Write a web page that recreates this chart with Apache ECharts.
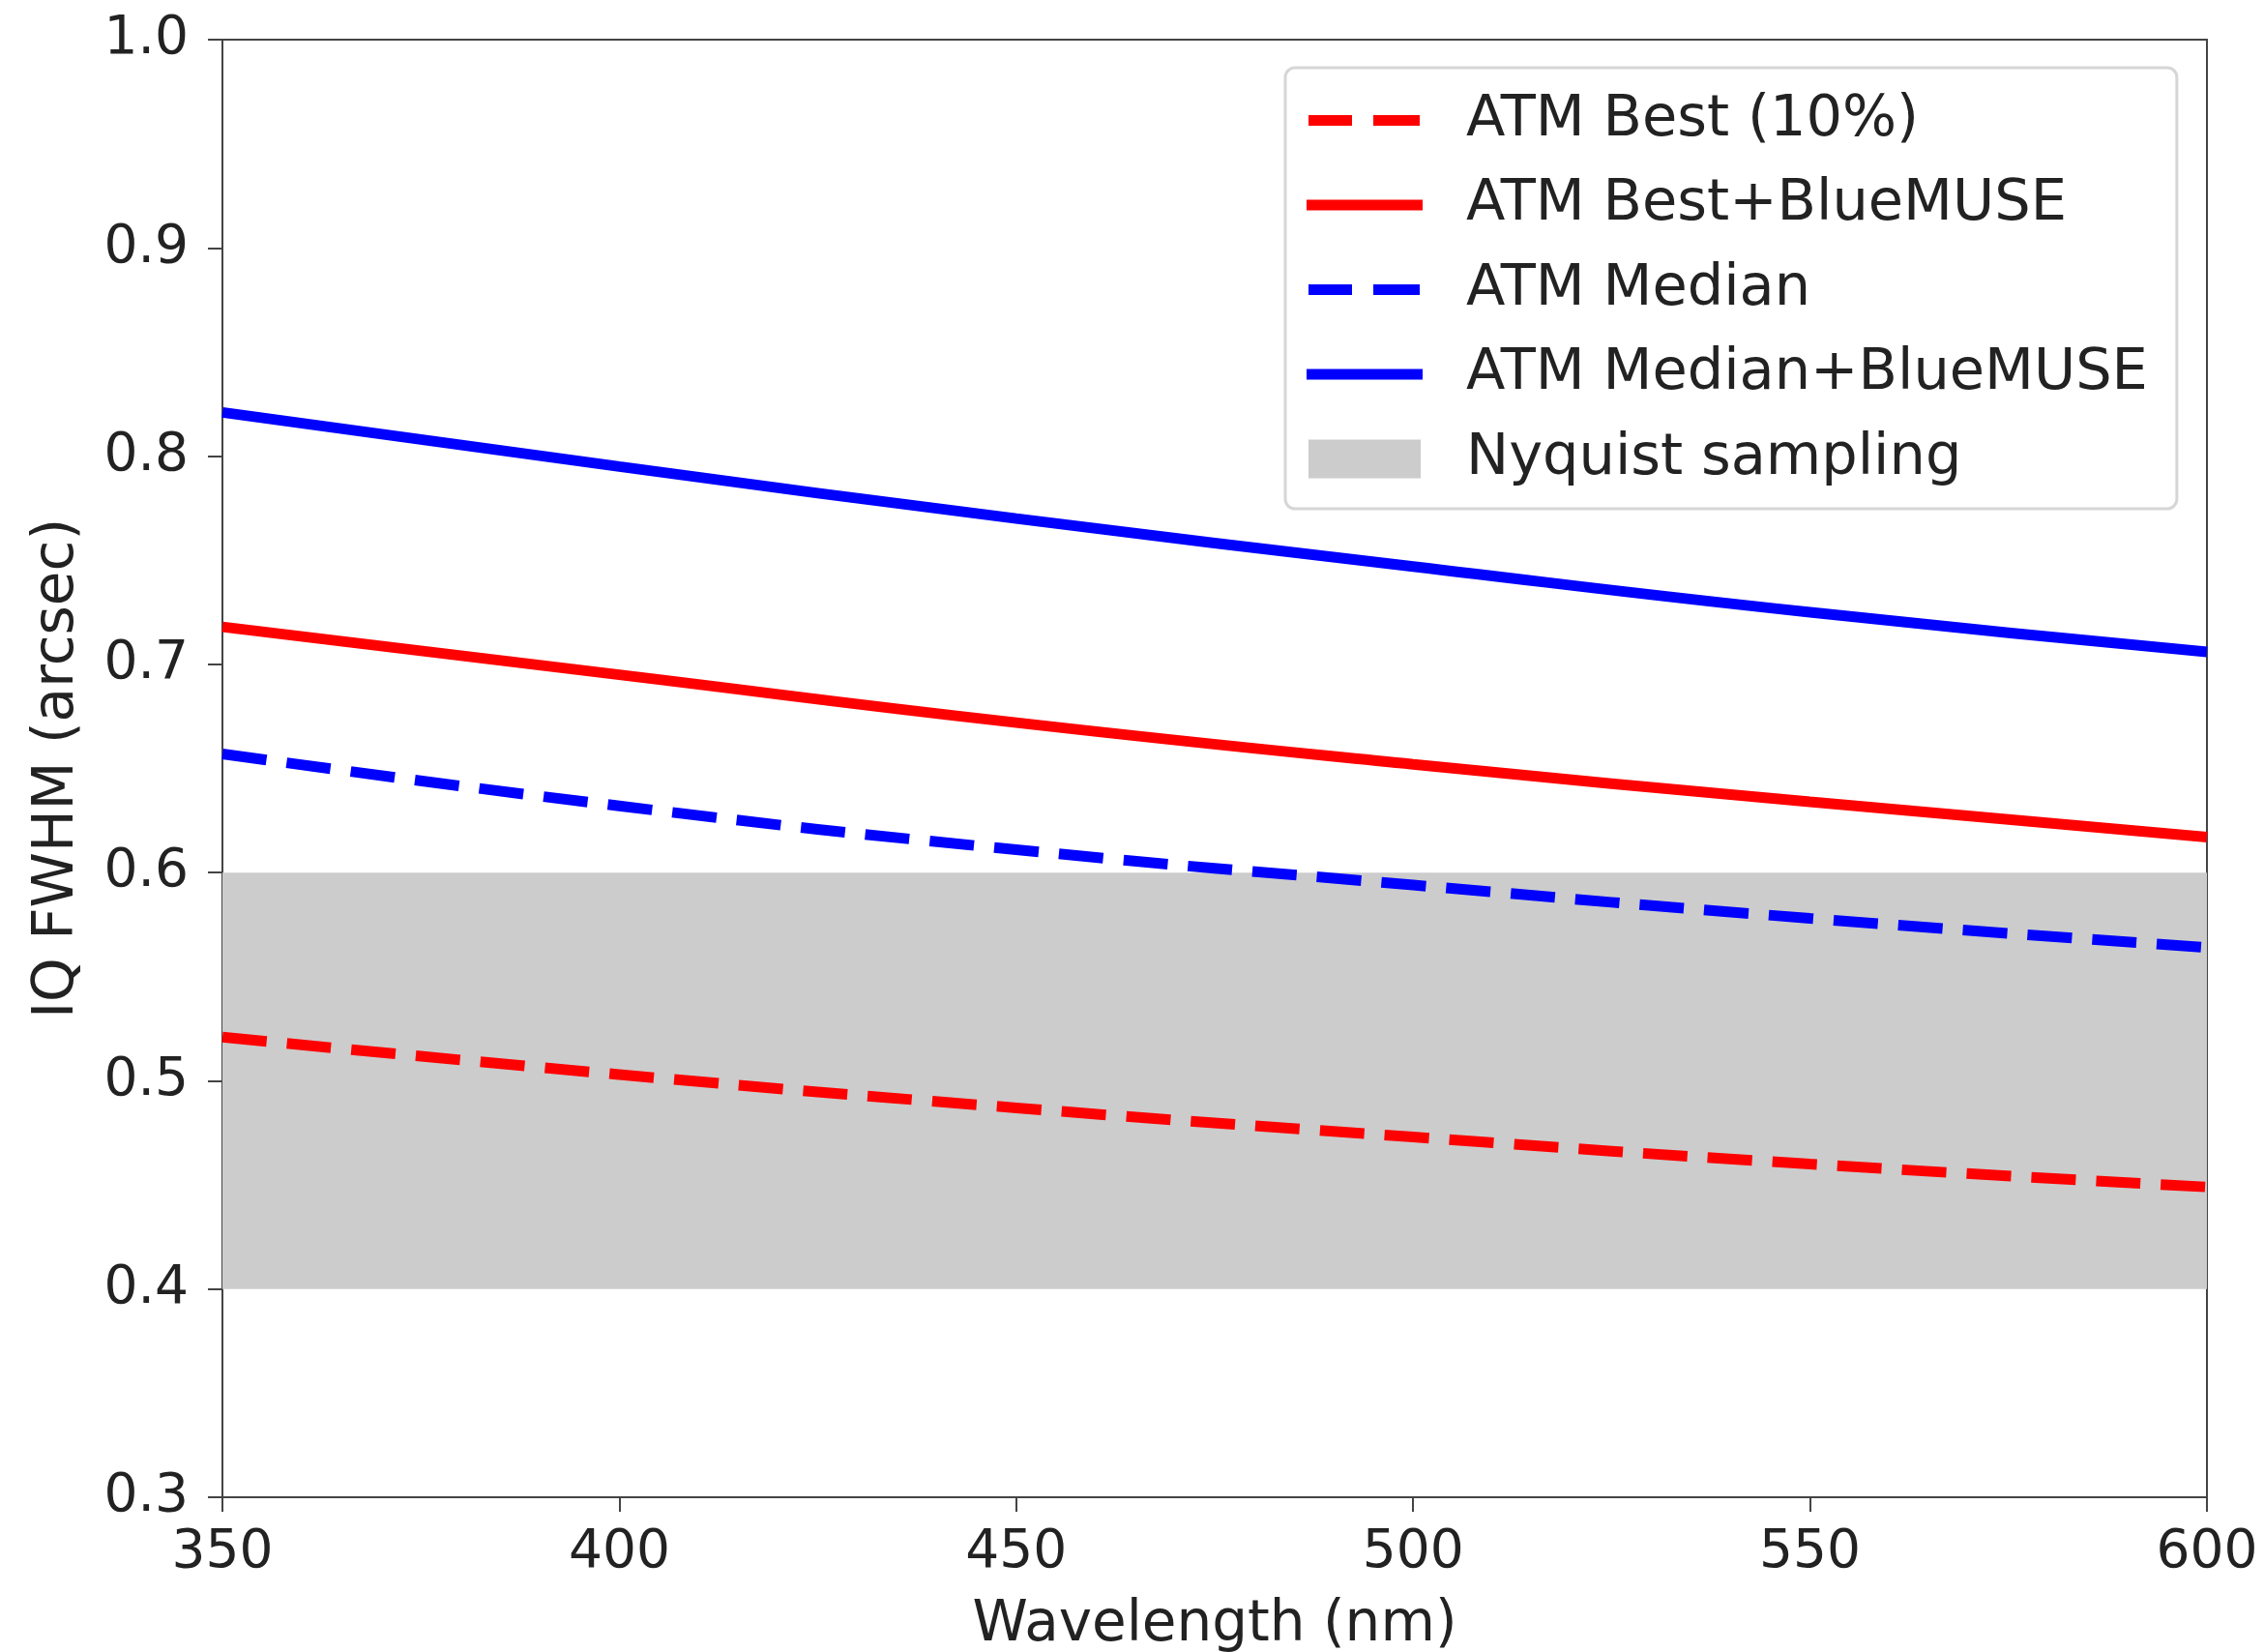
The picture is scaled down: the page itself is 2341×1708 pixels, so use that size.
<!DOCTYPE html>
<html>
<head>
<meta charset="utf-8">
<script src="https://cdn.jsdelivr.net/npm/echarts@6/dist/echarts.min.js"></script>
<style>
html,body{margin:0;padding:0;background:#fff;}
#chart{width:2341px;height:1708px;}
</style>
</head>
<body>
<div id="chart"></div>
<script>
// Wavelength (nm)
const wavelengths = [350, 400, 450, 500, 550, 600];
// IQ FWHM (arcsec)
const atmBest = [0.521, 0.503, 0.487, 0.473, 0.460, 0.449];
const atmBestBlueMUSE = [0.718, 0.695, 0.672, 0.652, 0.634, 0.617];
const atmMedian = [0.657, 0.632, 0.611, 0.594, 0.578, 0.564];
const atmMedianBlueMUSE = [0.821, 0.795, 0.770, 0.747, 0.725, 0.706];
const nyquistRange = [0.4, 0.6];

const seriesNames = ['ATM Best (10%)', 'ATM Best+BlueMUSE', 'ATM Median', 'ATM Median+BlueMUSE', 'Nyquist sampling'];
const xTicks = { min: 350, max: 600, interval: 50 };
const yTicks = { min: 0.3, max: 1.0, interval: 0.1 };

const FONT = 'DejaVu Sans';
const chart = echarts.init(document.getElementById('chart'));

function pairs(ys) { return wavelengths.map((x, i) => [x, ys[i]]); }

function lineSeries(name, ys, color, dashed) {
  return {
    name: name,
    type: 'line',
    data: pairs(ys),
    smooth: true,
    symbol: 'none',
    z: 5,
    lineStyle: { color: color, width: 11, type: dashed ? [46, 21] : 'solid', cap: 'butt' },
    itemStyle: { color: color }
  };
}

// legend icons (bounding corners keep the 120x40 frame)
const CORNERS = 'M0,0h0.01v0.01h-0.01Z M120,40h-0.01v-0.01h0.01Z ';
const ICON_SOLID = 'path://' + CORNERS + 'M0,14.5h120v11h-120Z';
const ICON_DASH = 'path://' + CORNERS + 'M2,14.5h45v11h-45Z M69,14.5h48v11h-48Z';
const ICON_RECT = 'path://' + CORNERS + 'M2,0h116v40h-116Z';

const option = {
  backgroundColor: '#ffffff',
  animation: false,
  grid: { left: 230, top: 41, right: 59, bottom: 160, show: true, borderColor: '#444', borderWidth: 2, backgroundColor: 'transparent', containLabel: false, outerBoundsMode: 'none' },
  legend: {
    left: 1329, top: 70,
    orient: 'vertical',
    padding: [25, 30, 22, 22],
    backgroundColor: '#ffffff',
    borderColor: '#d6d6d6', borderWidth: 3, borderRadius: 10,
    itemWidth: 120, itemHeight: 40, itemGap: 28.5,
    textStyle: { fontFamily: FONT, fontSize: 59, color: '#222', padding: [0, 0, 0, 40], lineHeight: 58 },
    data: [
      { name: seriesNames[0], icon: ICON_DASH, itemStyle: { color: '#ff0000' } },
      { name: seriesNames[1], icon: ICON_SOLID, itemStyle: { color: '#ff0000' } },
      { name: seriesNames[2], icon: ICON_DASH, itemStyle: { color: '#0000ff' } },
      { name: seriesNames[3], icon: ICON_SOLID, itemStyle: { color: '#0000ff' } },
      { name: seriesNames[4], icon: ICON_RECT, itemStyle: { color: '#cccccc' } }
    ]
  },
  xAxis: {
    type: 'value', min: xTicks.min, max: xTicks.max, interval: xTicks.interval,
    name: 'Wavelength (nm)', nameLocation: 'middle', nameGap: 104,
    nameTextStyle: { fontFamily: FONT, fontSize: 58, color: '#222' },
    axisLine: { show: true, lineStyle: { color: '#444', width: 2 } },
    axisTick: { show: true, length: 15, lineStyle: { color: '#444', width: 2 } },
    axisLabel: { fontFamily: FONT, fontSize: 55, color: '#222', margin: 30, formatter: v => String(v) },
    splitLine: { show: false }
  },
  yAxis: {
    type: 'value', min: yTicks.min, max: yTicks.max, interval: yTicks.interval,
    name: 'IQ FWHM (arcsec)', nameLocation: 'middle', nameGap: 141,
    nameTextStyle: { fontFamily: FONT, fontSize: 58, color: '#222' },
    axisLine: { show: true, lineStyle: { color: '#444', width: 2 } },
    axisTick: { show: true, length: 15, lineStyle: { color: '#444', width: 2 } },
    axisLabel: { fontFamily: FONT, fontSize: 55, color: '#222', margin: 35, formatter: v => v.toFixed(1) },
    splitLine: { show: false }
  },
  series: [
    lineSeries(seriesNames[0], atmBest, '#ff0000', true),
    lineSeries(seriesNames[1], atmBestBlueMUSE, '#ff0000', false),
    lineSeries(seriesNames[2], atmMedian, '#0000ff', true),
    lineSeries(seriesNames[3], atmMedianBlueMUSE, '#0000ff', false),
    {
      name: seriesNames[4],
      type: 'line',
      data: [],
      symbol: 'none',
      z: 1,
      itemStyle: { color: '#cccccc' },
      lineStyle: { color: '#cccccc' },
      markArea: {
        silent: true,
        itemStyle: { color: '#cccccc' },
        data: [[{ yAxis: nyquistRange[0] }, { yAxis: nyquistRange[1] }]]
      }
    }
  ]
};
chart.setOption(option);
</script>
</body>
</html>
